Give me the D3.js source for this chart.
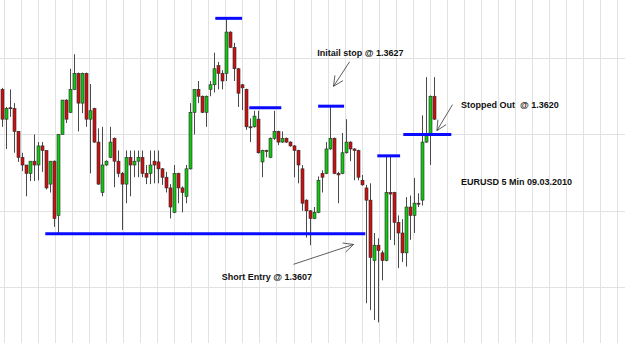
<!DOCTYPE html>
<html>
<head>
<meta charset="utf-8">
<script src="https://cdn.jsdelivr.net/npm/d3@7"></script>
<style>
  html, body { margin: 0; padding: 0; background: #fff; overflow: hidden; }
  .note { font-family: "Liberation Sans", Arial, sans-serif; font-weight: bold; font-size: 9px; fill: #111; white-space: pre; }
</style>
</head>
<body>
<div id="chart"></div>
<script>
// EURUSD 5 min candles, 09.03.2010
const opens = [1.36259,1.36220,1.36235,1.36234,1.36204,1.36170,1.36160,1.36149,1.36165,1.36160,
  1.36185,1.36179,1.36135,1.36165,1.36094,1.36200,1.36245,1.36229,1.36259,1.36280,
  1.36241,1.36280,1.36220,1.36234,1.36190,1.36124,1.36160,1.36170,1.36195,1.36165,
  1.36149,1.36135,1.36170,1.36160,1.36165,1.36170,1.36149,1.36149,1.36165,1.36164,
  1.36155,1.36144,1.36130,1.36098,1.36149,1.36130,1.36119,1.36155,1.36229,1.36259,
  1.36250,1.36229,1.36259,1.36265,1.36290,1.36280,1.36280,1.36334,1.36314,1.36286,
  1.36265,1.36259,1.36210,1.36210,1.36220,1.36164,1.36179,1.36170,1.36195,1.36204,
  1.36190,1.36195,1.36190,1.36185,1.36179,1.36155,1.36114,1.36100,1.36090,1.36098,
  1.36149,1.36149,1.36181,1.36195,1.36149,1.36149,1.36176,1.36190,1.36181,1.36179,
  1.36140,1.36130,1.36114,1.36035,1.36055,1.36045,1.36035,1.36124,1.36124,1.36085,
  1.36071,1.36045,1.36105,1.36094,1.36110,1.36114,1.36190,1.36200,1.36250];
const highs = [1.36261,1.36236,1.36259,1.36241,1.36204,1.36176,1.36160,1.36165,1.36200,1.36190,
  1.36190,1.36179,1.36165,1.36166,1.36200,1.36245,1.36246,1.36286,1.36305,1.36281,
  1.36281,1.36281,1.36266,1.36235,1.36208,1.36210,1.36166,1.36210,1.36196,1.36179,
  1.36151,1.36179,1.36179,1.36179,1.36179,1.36179,1.36160,1.36179,1.36179,1.36179,
  1.36156,1.36151,1.36135,1.36160,1.36150,1.36132,1.36160,1.36241,1.36259,1.36270,
  1.36251,1.36251,1.36270,1.36307,1.36295,1.36284,1.36351,1.36335,1.36320,1.36287,
  1.36266,1.36260,1.36221,1.36231,1.36231,1.36180,1.36180,1.36196,1.36231,1.36205,
  1.36204,1.36196,1.36191,1.36186,1.36180,1.36160,1.36115,1.36101,1.36105,1.36145,
  1.36153,1.36190,1.36237,1.36196,1.36151,1.36202,1.36220,1.36191,1.36182,1.36180,
  1.36147,1.36134,1.36136,1.36071,1.36064,1.36048,1.36172,1.36172,1.36125,1.36094,
  1.36089,1.36118,1.36120,1.36143,1.36123,1.36225,1.36275,1.36251,1.36275];
const lows = [1.36210,1.36181,1.36223,1.36176,1.36164,1.36152,1.36119,1.36139,1.36139,1.36140,
  1.36151,1.36128,1.36124,1.36079,1.36071,1.36200,1.36215,1.36228,1.36258,1.36204,
  1.36228,1.36210,1.36149,1.36189,1.36134,1.36119,1.36159,1.36169,1.36131,1.36144,
  1.36075,1.36110,1.36119,1.36144,1.36144,1.36144,1.36135,1.36135,1.36136,1.36136,
  1.36134,1.36124,1.36090,1.36097,1.36110,1.36098,1.36110,1.36154,1.36200,1.36241,
  1.36228,1.36210,1.36250,1.36255,1.36259,1.36259,1.36270,1.36313,1.36270,1.36236,
  1.36232,1.36206,1.36190,1.36209,1.36175,1.36144,1.36170,1.36169,1.36193,1.36186,
  1.36189,1.36189,1.36184,1.36144,1.36136,1.36100,1.36065,1.36055,1.36089,1.36097,
  1.36124,1.36148,1.36180,1.36148,1.36110,1.36148,1.36175,1.36165,1.36140,1.36140,
  1.36133,1.35979,1.35970,1.35957,1.35954,1.36009,1.36034,1.36062,1.36055,1.36025,
  1.36033,1.36027,1.36062,1.36071,1.36105,1.36107,1.36189,1.36160,1.36219];
const closes = [1.36220,1.36234,1.36234,1.36204,1.36170,1.36160,1.36149,1.36165,1.36160,1.36185,
  1.36179,1.36130,1.36165,1.36090,1.36200,1.36245,1.36220,1.36259,1.36280,1.36241,
  1.36280,1.36220,1.36231,1.36190,1.36135,1.36160,1.36165,1.36190,1.36165,1.36149,
  1.36135,1.36170,1.36160,1.36165,1.36170,1.36149,1.36144,1.36160,1.36160,1.36155,
  1.36144,1.36130,1.36105,1.36149,1.36130,1.36124,1.36155,1.36229,1.36259,1.36250,
  1.36229,1.36250,1.36265,1.36286,1.36280,1.36270,1.36334,1.36314,1.36286,1.36254,
  1.36261,1.36210,1.36209,1.36224,1.36176,1.36179,1.36178,1.36195,1.36204,1.36190,
  1.36195,1.36190,1.36185,1.36179,1.36160,1.36110,1.36100,1.36090,1.36098,1.36140,
  1.36144,1.36181,1.36195,1.36149,1.36147,1.36176,1.36190,1.36181,1.36179,1.36144,
  1.36134,1.36114,1.36039,1.36055,1.36048,1.36035,1.36124,1.36122,1.36085,1.36071,
  1.36045,1.36105,1.36094,1.36110,1.36109,1.36190,1.36200,1.36250,1.36220];

const gridPrices = [1.3600, 1.3610, 1.3620, 1.3630];

// blue levels: price, first bar, last bar
const levelPrices = [1.3607, 1.36352, 1.36235, 1.36237, 1.36172, 1.3620];
const levelStart  = [10.7, 53.2, 61.7, 78.9, 93.7, 100.2];
const levelEnd    = [90.7, 59.9, 69.7, 85.4, 99.4, 112.2];

// notes: text, bar, price
const noteTexts  = ["Initail stop @ 1.3627", "Stopped Out  @ 1.3620", "EURUSD 5 Min 09.03.2010", "Short Entry @ 1.3607"];
const noteBars   = [78.7, 114.6, 114.6, 54.8];
const notePrices = [1.36303, 1.36234, 1.36134, 1.36009];

// arrows: from (bar, price) to (bar, price)
const arrowFrom = [[86.75, 1.36295], [112.5, 1.36239], [72.75, 1.36030]];
const arrowTo   = [[82.75, 1.36263], [108.6, 1.36205], [87.75, 1.36056]];

const width = 625, height = 343;

const xScale = d3.scaleLinear().domain([-0.625, 155.625]).range([0, width]);
const yScale = d3.scaleLinear().domain([1.35927, 1.36376]).range([height, 0]);

const svg = d3.select("#chart").append("svg")
  .attr("width", width)
  .attr("height", height);

// grid
const gridBars = d3.range(0.375, 156, 4.2575);
svg.append("g").selectAll("line")
  .data(gridBars)
  .enter().append("line")
  .attr("x1", d => Math.round(xScale(d)) + 0.5)
  .attr("x2", d => Math.round(xScale(d)) + 0.5)
  .attr("y1", 0).attr("y2", height)
  .attr("stroke", "#e2e2e2");

svg.append("g").selectAll("line")
  .data(gridPrices)
  .enter().append("line")
  .attr("x1", 0).attr("x2", width)
  .attr("y1", d => Math.round(yScale(d)) + 0.5)
  .attr("y2", d => Math.round(yScale(d)) + 0.5)
  .attr("stroke", "#e2e2e2");

const candles = opens.map((o, i) => ({i, o, h: highs[i], l: lows[i], c: closes[i]}));

// wicks
svg.append("g").selectAll("line")
  .data(candles)
  .enter().append("line")
  .attr("x1", d => xScale(d.i))
  .attr("x2", d => xScale(d.i))
  .attr("y1", d => yScale(d.h))
  .attr("y2", d => yScale(d.l))
  .attr("stroke", "#4a4a4a");

// bodies
svg.append("g").selectAll("rect")
  .data(candles)
  .enter().append("rect")
  .attr("x", d => xScale(d.i) - 1.5)
  .attr("width", 3)
  .attr("y", d => yScale(Math.max(d.o, d.c)))
  .attr("height", d => Math.max(1, Math.abs(yScale(d.o) - yScale(d.c))))
  .attr("fill", d => d.c >= d.o ? "#12c612" : "#cc1010")
  .attr("stroke", "#2a2a2a")
  .attr("stroke-width", 0.6);

// blue levels
svg.append("g").selectAll("line")
  .data(levelPrices)
  .enter().append("line")
  .attr("x1", (d, i) => xScale(levelStart[i]))
  .attr("x2", (d, i) => xScale(levelEnd[i]))
  .attr("y1", d => yScale(d))
  .attr("y2", d => yScale(d))
  .attr("stroke", "#0a0aff")
  .attr("stroke-width", 3);

// arrows
const arrows = svg.append("g").attr("stroke", "#333").attr("stroke-width", 0.8).attr("fill", "none");
arrowFrom.forEach((f, i) => {
  const x1 = xScale(f[0]), y1 = yScale(f[1]);
  const x2 = xScale(arrowTo[i][0]), y2 = yScale(arrowTo[i][1]);
  arrows.append("line").attr("x1", x1).attr("y1", y1).attr("x2", x2).attr("y2", y2);
  const ang = Math.atan2(y1 - y2, x1 - x2);
  [-0.45, 0.45].forEach(da => {
    arrows.append("line")
      .attr("x1", x2).attr("y1", y2)
      .attr("x2", x2 + 11 * Math.cos(ang + da))
      .attr("y2", y2 + 11 * Math.sin(ang + da));
  });
});

// notes
svg.append("g").selectAll("text")
  .data(noteTexts)
  .enter().append("text")
  .attr("class", "note")
  .attr("x", (d, i) => xScale(noteBars[i]))
  .attr("y", (d, i) => yScale(notePrices[i]))
  .text(d => d);
</script>
</body>
</html>
